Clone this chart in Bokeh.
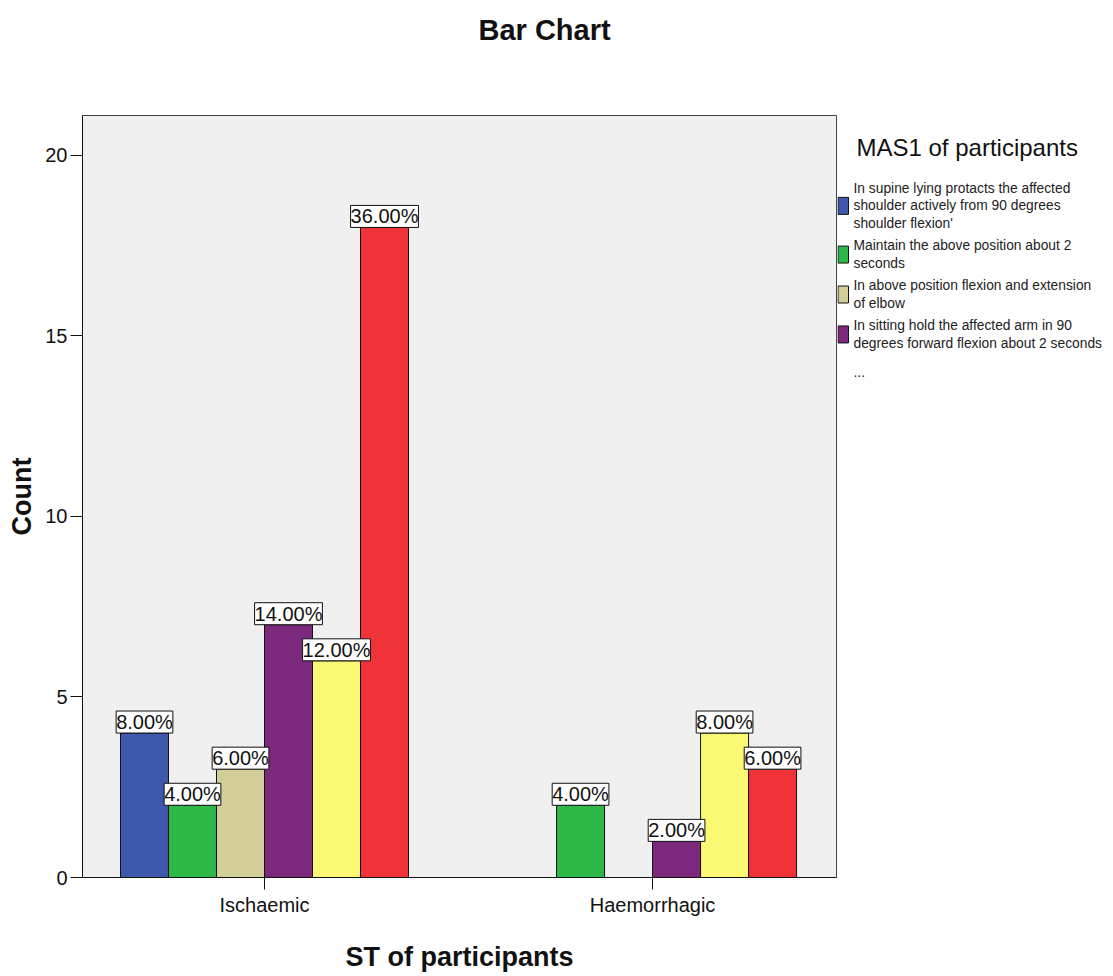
from bokeh.plotting import figure
from bokeh.models import ColumnDataSource, Range1d, FixedTicker, LabelSet, Title
from bokeh.layouts import row
from bokeh.embed import file_html
from bokeh.resources import INLINE
from bokeh.core.properties import value

# ---------------- data ----------------
categories = ["Ischaemic", "Haemorrhagic"]
counts_ischaemic = [4, 2, 3, 7, 6, 18]
counts_haemorrhagic = [0, 2, 0, 1, 4, 3]
series_colors = ["#3E58AC", "#2EB848", "#D3CE97", "#7C287D", "#FBF873", "#EF3338"]
legend_labels = [
    "In supine lying protacts the affected\nshoulder actively from 90 degrees\nshoulder flexion'",
    "Maintain the above position about 2\nseconds",
    "In above position flexion and extension\nof elbow",
    "In sitting hold the affected arm in 90\ndegrees forward flexion about 2 seconds",
]
legend_more = "..."
y_ticks = [0, 5, 10, 15, 20]

title_text = "Bar Chart"
x_title = "ST of participants"
y_title = "Count"
legend_title = "MAS1 of participants"

# ---------------- layout / styles ----------------
SANS = "Liberation Sans, Arial, sans-serif"
BAR_W = 0.1237
N = len(series_colors)
TOTAL_W, H = 1110, 974
FRAME_L, FRAME_R, FRAME_T, FRAME_B = 82, 836, 115, 878
PW = FRAME_R + 1

all_counts = [counts_ischaemic, counts_haemorrhagic]
total = sum(sum(c) for c in all_counts)

xs, tops, cols, labels = [], [], [], []
for ci, counts in enumerate(all_counts):
    for si, c in enumerate(counts):
        if c > 0:
            xs.append(ci + (si - (N - 1) / 2) * BAR_W)
            tops.append(c)
            cols.append(series_colors[si])
            labels.append(f"{c / total * 100:.2f}%")

src = ColumnDataSource(dict(x=xs, top=tops, color=cols, label=labels))

p = figure(width=PW, height=H, x_range=Range1d(-0.469, 1.474), y_range=Range1d(0, 21.1),
           output_backend="svg", toolbar_location=None, title=None,
           min_border_left=FRAME_L, min_border_right=PW - FRAME_R,
           min_border_top=FRAME_T, min_border_bottom=H - FRAME_B)

p.vbar(x="x", top="top", bottom=0, width=BAR_W, fill_color="color", line_color="#111111",
       line_width=1, source=src)

lbl = LabelSet(x="x", y="top", text="label", source=src, text_align="center",
               text_baseline="bottom", text_font=value(SANS), text_font_size="20px",
               text_color="#111111", background_fill_color="white",
               border_line_color="#111111", border_line_width=1)
p.add_layout(lbl)

p.background_fill_color = "#F0F0F0"
p.border_fill_color = "white"
p.outline_line_color = "#444444"
p.outline_line_width = 1
p.xgrid.visible = False
p.ygrid.visible = False

p.xaxis.ticker = FixedTicker(ticks=list(range(len(categories))))
p.xaxis.major_label_overrides = {i: c for i, c in enumerate(categories)}
p.yaxis.ticker = FixedTicker(ticks=y_ticks)
for ax in (p.xaxis[0], p.yaxis[0]):
    ax.axis_line_color = "#111111"
    ax.major_tick_line_color = "#111111"
    ax.minor_tick_line_color = None
    ax.major_tick_out = 12
    ax.major_tick_in = 0
    ax.major_label_text_font = SANS
    ax.major_label_text_font_size = "20px"
    ax.major_label_text_color = "#111111"
    ax.axis_label_text_font = SANS
    ax.axis_label_text_font_size = "27px"
    ax.axis_label_text_font_style = "bold"
    ax.axis_label_text_color = "#111111"
p.xaxis.axis_label = x_title
p.yaxis.axis_label = y_title
p.xaxis.major_label_standoff = 4
p.yaxis.major_label_standoff = 3
p.xaxis.axis_label_standoff = 23
p.yaxis.axis_label_standoff = 5

# ---------------- title (spacer panel first, then the title above it) ----------------
p.add_layout(Title(text=" ", text_font_size="1px", standoff=62), "above")
p.add_layout(Title(text=title_text, align="left", offset=478 - FRAME_L, standoff=10,
                   vertical_align="bottom", text_font=SANS, text_font_size="29px",
                   text_font_style="bold", text_color="#111111"), "above")

# ---------------- legend panel (frame aligned with the main plot's frame) ----------------
LW = TOTAL_W - PW
lf = figure(width=LW, height=H, x_range=Range1d(PW, TOTAL_W), y_range=Range1d(FRAME_B, FRAME_T),
            output_backend="svg", toolbar_location=None,
            min_border_left=0, min_border_right=0, min_border_top=FRAME_T,
            min_border_bottom=H - FRAME_B)
lf.axis.visible = False
lf.grid.visible = False
lf.outline_line_color = None
lf.background_fill_color = "white"
lf.border_fill_color = "white"

lf.text(x=[856], y=[147], text=[legend_title], text_font=value(SANS), text_font_size="24px",
        text_baseline="middle", text_align="left", text_color="#111111")

line_h = 17.5
gap = 5.0
y = 188.0
sw_y, sw_c, t_y, t_t = [], [], [], []
for i, lab in enumerate(legend_labels):
    lines = lab.split("\n")
    ys = [y + k * line_h for k in range(len(lines))]
    t_y += ys
    t_t += lines
    sw_y.append(sum(ys) / len(ys))
    sw_c.append(series_colors[i])
    y += len(lines) * line_h + gap
t_y.append(y + 6)
t_t.append(legend_more)

lf.quad(left=PW + 0.5, right=848, top=[v - 8.5 for v in sw_y], bottom=[v + 8.5 for v in sw_y],
        fill_color=sw_c, line_color="#111111", line_width=1)
lf.text(x=853, y=t_y, text=t_t, text_font=value(SANS), text_font_size="13.8px",
        text_baseline="middle", text_align="left", text_color="#222222")

layout = row(p, lf)
open("out.html", "w").write(file_html(layout, INLINE))
